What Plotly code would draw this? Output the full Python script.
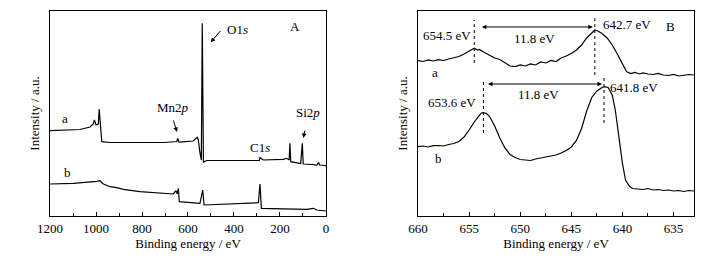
import plotly.graph_objects as go
from plotly.subplots import make_subplots

# ---------------- Panel A: survey spectra ----------------
a_survey_energy = [1200, 1070, 1026, 1012, 1007, 1000, 990, 986, 982, 975, 939, 800, 700, 649,
                   645, 639, 577, 560, 555, 548, 542, 538, 533, 519, 300, 290, 287, 273, 186,
                   171, 160, 157, 153, 128, 110, 103, 99, 60, 40, 32, 28, 4, 0]
a_survey_int = [85.3, 86.5, 89, 92, 96, 91, 92, 106.7, 95, 74.3, 73.5, 73.5, 73.5, 74.5,
                77.7, 73.8, 75, 78.7, 76, 63, 56, 192.7, 54, 55.5, 55.5, 55.5, 58.5, 56, 56.7,
                57.7, 56, 72.7, 54.3, 53.3, 52.5, 72.7, 52, 51.5, 51, 53.5, 51, 50.5, 50]

b_survey_energy = [1200, 1099, 997, 983, 968, 939, 910, 881, 809, 736, 664, 652, 647, 642,
                   638, 548, 536, 530, 316, 294, 287, 281, 84, 55, 40, 4, 0]
b_survey_int = [32, 32.7, 34.7, 35.3, 32, 29.3, 28.3, 26.7, 24.3, 23.3, 22, 25.3, 22, 27.7,
                14.3, 12.7, 26, 11, 12.7, 13.3, 32, 7.7, 6.7, 7.7, 6, 5, 5]

# ---------------- Panel B: Mn 2p spectra ----------------
a_mn_energy = [660, 659.5, 659, 658.5, 658, 657.5, 657, 656.5, 656, 655.5, 655, 654.7, 654.5,
               654.2, 654, 653.5, 653, 652.5, 652, 651.5, 651, 650.5, 650, 649.5, 649, 648.5,
               648, 647.5, 647, 646.5, 646, 645.5, 645, 644.5, 644, 643.5, 643, 642.7, 642.4,
               642, 641.5, 641, 640.5, 640, 639.6, 639.2, 638.8, 638.3, 638, 637.5, 637,
               636.5, 636, 635.5, 635, 634.5, 634, 633.5, 633]
a_mn_int = [155.3, 154.5, 156, 155, 156.3, 155.5, 157, 158, 159.5, 162, 165, 166.5, 167.7,
            166, 166.5, 163.5, 161, 158, 156.5, 153, 150, 149.3, 151, 150, 152, 151, 154, 153,
            155.5, 154.5, 158, 160, 162.5, 166, 171, 178, 183, 186, 185, 182.5, 178, 171, 162,
            152, 144.5, 142.5, 143.5, 142, 143, 142, 141.5, 142.5, 141, 140.5, 141.5, 140,
            141, 141.5, 141]

b_mn_energy = [660, 659.5, 659, 658.5, 658, 657.5, 657, 656.5, 656, 655.5, 655, 654.5, 654,
               653.8, 653.6, 653.3, 653, 652.5, 652, 651.5, 651, 650.5, 650, 649.5, 649, 648.5,
               648, 647.5, 647, 646.5, 646, 645.5, 645, 644.5, 644, 643.5, 643, 642.5, 642,
               641.8, 641.4, 641, 640.7, 640.3, 640, 639.7, 639.3, 639, 638.5, 638, 637.5, 637,
               636.5, 636, 635.5, 635, 634.5, 634, 633.5, 633]
b_mn_int = [69.3, 70, 69, 70.3, 70.5, 70, 71.5, 72.5, 74.5, 79, 86, 94, 100.5, 103, 103.3,
            102.5, 99.5, 90, 78, 68, 61.5, 58.5, 56.5, 56, 55.5, 57, 58, 58.5, 60, 61, 63, 65.5,
            69, 75.5, 87.5, 105, 118.5, 125, 128.5, 129.3, 128.5, 121, 106, 76, 52.7, 36, 29.5,
            27.5, 27, 26.5, 27.5, 26, 26.5, 25.5, 26, 25, 25.5, 24.5, 25.5, 25]

# peak positions (eV) marked with dotted lines in panel B
peaks_a = [654.5, 642.7]
peaks_b = [653.6, 641.8]
split_label = "11.8 eV"

FONT = "Liberation Serif"
fig = make_subplots(rows=1, cols=2)

line = dict(color="black", width=1.2)
fig.add_trace(go.Scatter(x=a_survey_energy, y=a_survey_int, mode="lines", line=line), 1, 1)
fig.add_trace(go.Scatter(x=b_survey_energy, y=b_survey_int, mode="lines", line=line), 1, 1)
fig.add_trace(go.Scatter(x=a_mn_energy, y=a_mn_int, mode="lines", line=line), 1, 2)
fig.add_trace(go.Scatter(x=b_mn_energy, y=b_mn_int, mode="lines", line=line), 1, 2)

xcommon = dict(showline=True, linecolor="black", linewidth=1, mirror=True, ticks="inside",
               ticklen=4, tickcolor="black", showgrid=False, zeroline=False, automargin=False,
               tickfont=dict(family=FONT, size=13, color="black"),
               title=dict(text="Binding energy / eV", font=dict(family=FONT, size=13, color="black"),
                          standoff=3))
ycommon = dict(showline=True, linecolor="black", linewidth=1, mirror=True, ticks="",
               showticklabels=False, showgrid=False, zeroline=False, range=[0, 205],
               automargin=False,
               title=dict(text="Intensity / a.u.", font=dict(family=FONT, size=13, color="black"),
                          standoff=6))

fig.update_xaxes(xcommon)
fig.update_yaxes(ycommon)
fig.update_xaxes(range=[1200, 0], dtick=200, minor=dict(dtick=100, ticks="inside", ticklen=3,
                 tickcolor="black"), domain=[0.0688, 0.4484], row=1, col=1)
fig.update_xaxes(range=[660, 633], dtick=5, tick0=635, minor=dict(dtick=2.5, ticks="inside",
                 ticklen=3, tickcolor="black"), domain=[0.575, 0.9546], row=1, col=2)
fig.update_yaxes(domain=[0.1628, 0.9574])

txt = dict(family=FONT, size=13, color="black")
ann = []
def label(x, y, t, xr="x", yr="y"):
    ann.append(dict(x=x, y=y, text=t, showarrow=False, xref=xr, yref=yr, font=txt))

label(1135, 97, "a"); label(1126, 44, "b")
label(664, 108, "Mn2<i>p</i>"); label(383, 186, "O1<i>s</i>")
label(287, 68, "C1<i>s</i>"); label(77, 103, "Si2<i>p</i>"); label(135, 189, "A")

for (hx, hy, ax, ay) in [(501, 173.7, 11, -13), (648, 84, -4, -13), (99, 78, 2, -9)]:
    ann.append(dict(x=hx, y=hy, xref="x", yref="y", ax=ax, ay=ay, text="", showarrow=True,
                    arrowhead=2, arrowsize=0.9, arrowwidth=1, arrowcolor="black"))

label(657.2, 180, "654.5 eV", "x2", "y2"); label(639.6, 191, "642.7 eV", "x2", "y2")
label(648.6, 177, split_label, "x2", "y2")
label(656.7, 113, "653.6 eV", "x2", "y2"); label(638.9, 128.5, "641.8 eV", "x2", "y2")
label(648.2, 121, split_label, "x2", "y2")
label(658.3, 143, "a", "x2", "y2"); label(658.0, 57, "b", "x2", "y2")
label(635.3, 189, "B", "x2", "y2")

for (x0, x1, y) in [(653.9, 642.9, 189), (653.3, 642.0, 132)]:
    ann.append(dict(x=x1, y=y, ax=x0, ay=y, xref="x2", yref="y2", axref="x2", ayref="y2",
                    text="", showarrow=True, arrowhead=2, startarrowhead=2, arrowside="end+start",
                    arrowsize=0.9, arrowwidth=1, arrowcolor="black"))

shapes = []
for (x, y0, y1) in [(peaks_a[0], 153, 196), (peaks_a[1], 141, 201),
                    (peaks_b[0], 83, 136), (peaks_b[1], 93, 139)]:
    shapes.append(dict(type="line", xref="x2", yref="y2", x0=x, x1=x, y0=y0, y1=y1,
                       line=dict(color="black", width=1, dash="dot")))

fig.update_layout(width=727, height=258, margin=dict(l=0, r=0, t=0, b=0),
                  paper_bgcolor="white", plot_bgcolor="white", showlegend=False,
                  annotations=ann, shapes=shapes, font=dict(family=FONT))
fig.write_html("out.html", config={"displayModeBar": False},
               post_script="document.body.style.margin='0';")
